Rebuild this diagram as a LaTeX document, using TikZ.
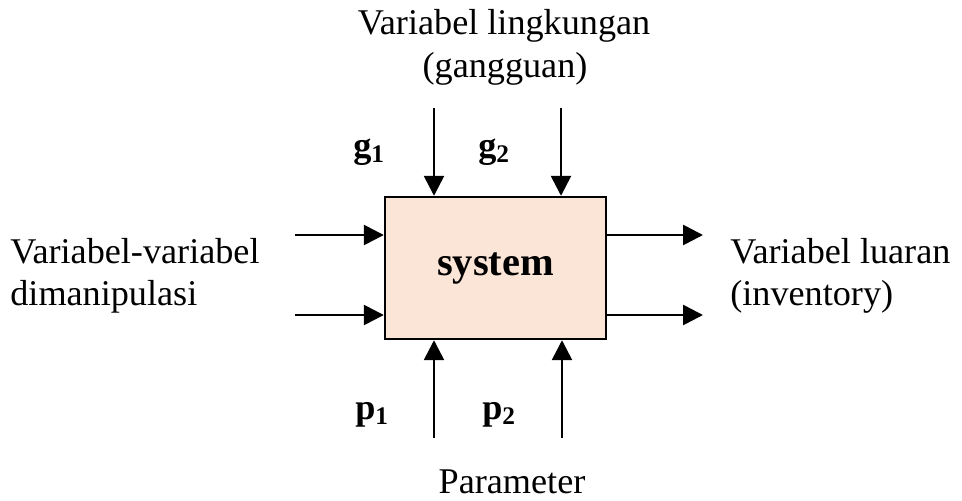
\documentclass[tikz,border=0pt]{standalone}
\usepackage{fontspec}
\setmainfont{Liberation Serif}
\usepackage{xcolor}
\usetikzlibrary{arrows.meta}

\definecolor{boxfill}{HTML}{FBE5D6}

\begin{document}
\begin{tikzpicture}[x=0.02cm, y=-0.02cm,
  lbl/.style={inner sep=0pt, font=\fontsize{20.6}{24}\selectfont, anchor=base},
  lblw/.style={lbl, anchor=base west},
  sym/.style={lbl, anchor=base west, font=\fontsize{20.6}{24}\selectfont\bfseries},
  arr/.style={line width=1.5pt, -{Triangle[length=0.4cm,width=0.4cm]}}]
\useasboundingbox (0,0) rectangle (962,500);

\node[draw, line width=1.4pt, fill=boxfill, minimum width=4.42cm, minimum height=2.84cm,
  inner sep=0pt, font=\fontsize{23}{28}\selectfont\bfseries] (sys) at (495.5,268) {system};

\coordinate (g1s) at (434,108);
\coordinate (g2s) at (561,108);
\coordinate (p1s) at (434,438);
\coordinate (p2s) at (562,438);
\coordinate (m1) at (295,235);
\coordinate (m2) at (295,315);
\coordinate (o1) at (703,235);
\coordinate (o2) at (703,315);

\draw[arr] (g1s) -- (g1s |- sys.north);
\draw[arr] (g2s) -- (g2s |- sys.north);
\draw[arr] (p1s) -- (p1s |- sys.south);
\draw[arr] (p2s) -- (p2s |- sys.south);
\draw[arr] (m1) -- (m1 -| sys.west);
\draw[arr] (m2) -- (m2 -| sys.west);
\draw[arr] (sys.east |- o1) -- (o1);
\draw[arr] (sys.east |- o2) -- (o2);

\node[sym] (g1) at (353,157) {g\textsubscript{1}};
\node[sym] (g2) at (478,157) {g\textsubscript{2}};
\node[sym] (p1) at (355,419) {p\textsubscript{1}};
\node[sym] (p2) at (482,419) {p\textsubscript{2}};

\node[lbl] (env1) at (504,35) {Variabel lingkungan};
\node[lbl] (env2) at (505,77) {(gangguan)};
\node[lblw] (man1) at (10,263) {Variabel-variabel};
\node[lblw] (man2) at (10,305) {dimanipulasi};
\node[lblw] (out1) at (730,263) {Variabel luaran};
\node[lblw] (out2) at (730,305) {(inventory)};
\node[lbl] (par) at (512,493) {Parameter};
\end{tikzpicture}
\end{document}
